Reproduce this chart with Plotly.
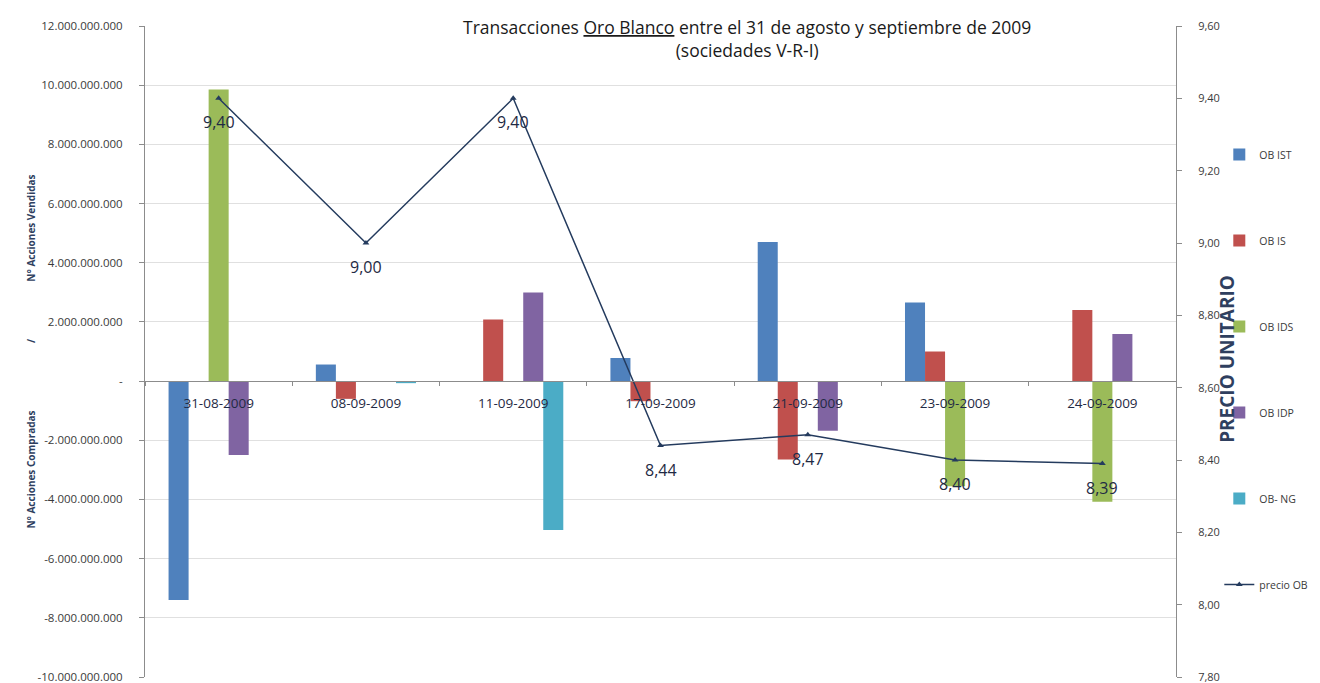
import plotly.graph_objects as go

fechas = ["31-08-2009", "08-09-2009", "11-09-2009", "17-09-2009",
          "21-09-2009", "23-09-2009", "24-09-2009"]

ob_ist = [-7.40e9, 0.56e9, None, 0.78e9, 4.70e9, 2.66e9, None]
ob_is = [None, -0.60e9, 2.08e9, -0.68e9, -2.65e9, 1.00e9, 2.40e9]
ob_ids = [9.85e9, None, None, None, None, -3.55e9, -4.08e9]
ob_idp = [-2.50e9, None, 2.99e9, None, -1.68e9, None, 1.59e9]
ob_ng = [None, -0.07e9, -5.03e9, None, None, None, None]
precio_ob = [9.40, 9.00, 9.40, 8.44, 8.47, 8.40, 8.39]
precio_labels = ["9,40", "9,00", "9,40", "8,44", "8,47", "8,40", "8,39"]

left_tickvals = [12e9, 10e9, 8e9, 6e9, 4e9, 2e9, 0, -2e9, -4e9, -6e9, -8e9, -10e9]
left_ticktext = ["12.000.000.000", "10.000.000.000", "8.000.000.000", "6.000.000.000",
                 "4.000.000.000", "2.000.000.000", "-", "-2.000.000.000",
                 "-4.000.000.000", "-6.000.000.000", "-8.000.000.000", "-10.000.000.000"]
right_tickvals = [9.6, 9.4, 9.2, 9.0, 8.8, 8.6, 8.4, 8.2, 8.0, 7.8]

series = [
    ("OB IST", ob_ist, "#4F81BD"),
    ("OB IS", ob_is, "#C0504D"),
    ("OB IDS", ob_ids, "#9BBB59"),
    ("OB IDP", ob_idp, "#8064A2"),
    ("OB- NG", ob_ng, "#4BACC6"),
]

FONT = "Open Sans"
TXT = "#3A3A3A"
DARK = "#1F2A44"

fig = go.Figure()
for i, (name, vals, color) in enumerate(series):
    fig.add_trace(go.Bar(
        x=fechas, y=vals, name=name, marker_color=color,
        marker_line_width=0, legendgroup=f"g{i}",
    ))

fig.add_trace(go.Scatter(
    x=fechas, y=precio_ob, name="precio OB", yaxis="y2",
    mode="lines+markers",
    line=dict(color="#243B5E", width=1.5),
    marker=dict(symbol="triangle-up", size=6, color="#243B5E"),
    legendgroup="g5", cliponaxis=False,
))

for f, p, lab in zip(fechas, precio_ob, precio_labels):
    fig.add_annotation(
        x=f, y=p, xref="x", yref="y2", text=lab, showarrow=False,
        yshift=-24, font=dict(family=FONT, size=16, color=DARK),
    )

fig.add_annotation(
    text="Transacciones <u>Oro Blanco</u> entre el 31 de agosto y septiembre de 2009<br>(sociedades V-R-I)",
    xref="paper", yref="paper", x=0.584, y=1.0, xanchor="center", yanchor="top",
    yshift=13, showarrow=False, align="center",
    font=dict(family=FONT, size=17.5, color="#1A1A1A"),
)

fig.add_annotation(
    text="<b>PRECIO UNITARIO</b>", textangle=-90,
    xref="paper", yref="paper", x=1.050, y=0.488, xanchor="center", yanchor="middle",
    showarrow=False, font=dict(family=FONT, size=19, color="#2F3F5F"),
)

y_lo, y_hi = -10e9, 12e9
zero_pos = (0 - y_lo) / (y_hi - y_lo)

fig.update_layout(
    width=1320, height=683,
    margin=dict(l=137, r=152, t=18, b=14),
    paper_bgcolor="white", plot_bgcolor="white",
    barmode="group", bargap=0.32, bargroupgap=0,
    separators=",.",
    font=dict(family=FONT, color=TXT),
    showlegend=True,
    legend=dict(
        x=1.042, xanchor="left", y=0.825, yanchor="top",
        font=dict(family=FONT, size=10.5, color=TXT),
        tracegroupgap=67, itemwidth=30, bgcolor="rgba(0,0,0,0)",
    ),
    xaxis=dict(
        anchor="free", position=zero_pos,
        showline=True, linecolor="#8C8C8C", linewidth=1,
        ticks="outside", ticklen=4, tickcolor="#8C8C8C", tickson="boundaries",
        tickfont=dict(family=FONT, size=13.5, color=DARK),
        ticklabelstandoff=10,
        showgrid=False, zeroline=False,
    ),
    yaxis=dict(
        range=[y_lo, y_hi], domain=[0, 1],
        tickvals=left_tickvals, ticktext=left_ticktext,
        tickfont=dict(family=FONT, size=11.5, color=TXT),
        ticklabelstandoff=14,
        showline=True, linecolor="#8C8C8C", linewidth=1,
        ticks="outside", ticklen=5, tickcolor="#8C8C8C",
        showgrid=True, gridcolor="#E0E0E0", gridwidth=1,
        zeroline=False,
        title=dict(
            text="<b>N° Acciones Compradas                          /                      N° Acciones Vendidas</b>",
            font=dict(family=FONT, size=10, color="#2F3F5F"), standoff=0,
        ),
        automargin=False,
    ),
    yaxis2=dict(
        overlaying="y", side="right", range=[7.80, 9.60],
        tickvals=right_tickvals, tickformat=".2f",
        tickfont=dict(family=FONT, size=11, color=TXT),
        ticklabelstandoff=14,
        showline=True, linecolor="#8C8C8C", linewidth=1,
        ticks="outside", ticklen=5, tickcolor="#8C8C8C",
        showgrid=False, zeroline=False,
        automargin=False,
    ),
)

fig.write_html("out.html")
